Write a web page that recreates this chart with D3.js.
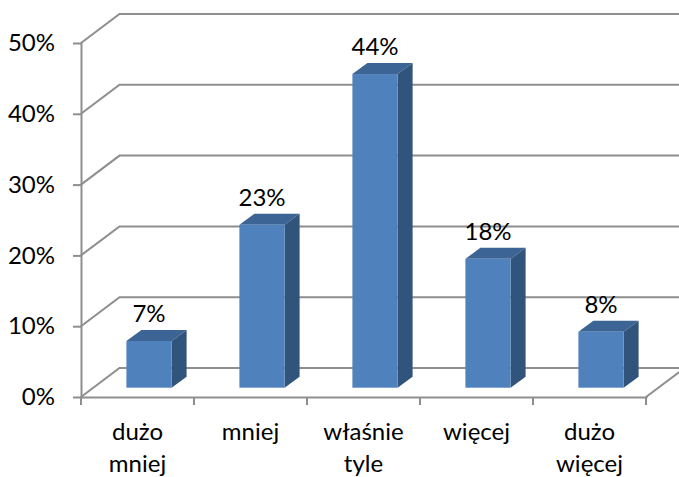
<!DOCTYPE html>
<meta charset="utf-8">
<style>
    body { margin: 0; background: #fff; }
    svg { display: block; }
    text { font-family: Lato, "Open Sans", sans-serif; font-size: 24px; fill: #000; }
    .axis path, .axis line, .grid { fill: none; stroke: #8e8e8e; stroke-width: 2px; }
    .domain { stroke-linecap: square; }
</style>

<body>
    <script src="https://d3js.org/d3.v7.min.js"></script>
    <script>
        // values
        var categories = ["dużo mniej", "mniej", "właśnie tyle", "więcej", "dużo więcej"];
        var values = [0.066, 0.23, 0.443, 0.182, 0.079];
        var yTicks = [0, 0.1, 0.2, 0.3, 0.4, 0.5];

        var width = 679, height = 477;

        // plot box, front plane
        var left = 81, right = 646, bottom = 397, top_ = 43;
        // depth of the 3d walls and of each bar
        var wallX = 38.5, wallY = 29;
        var barShiftX = 11.5, barShiftY = 9.3, barDepthX = 15, barDepthY = 11;

        var x = d3.scaleBand().domain(categories).range([left, right]).paddingInner(0.6).paddingOuter(0.3);
        var y = d3.scaleLinear().domain([0, 0.5]).range([bottom, top_]);
        var fmt = d3.format(".0%");

        var svg = d3.select("body").append("svg")
            .attr("width", width)
            .attr("height", height);

        // back wall + floor lines
        svg.selectAll(".grid").data(yTicks).enter().append("path")
            .attr("class", "grid")
            .attr("d", function(d) {
                return d3.line()([
                    [left, y(d)],
                    [left + wallX, y(d) - wallY],
                    [right + wallX, y(d) - wallY]
                ]);
            });
        svg.append("path")
            .attr("class", "grid")
            .attr("d", d3.line()([
                [right, y(0)],
                [right + wallX, y(0) - wallY]
            ]));

        // y axis
        svg.append("g")
            .attr("class", "axis")
            .attr("transform", "translate(" + left + ",0)")
            .call(d3.axisLeft(y).tickValues(yTicks).tickFormat(d3.format(".0%")).tickSize(8).tickSizeOuter(0).tickPadding(18));

        // x axis, ticks sit on the band edges
        var xAxis = svg.append("g")
            .attr("class", "axis")
            .attr("transform", "translate(0," + bottom + ")")
            .call(d3.axisBottom(x).tickSize(0).tickSizeOuter(0));

        xAxis.selectAll(".tick text").each(function(d) {
            var words = d.split(" ");
            var t = d3.select(this).text(null).attr("y", 0).attr("dy", null);
            words.forEach(function(w, i) {
                t.append("tspan").attr("x", 0).attr("y", 42.5 + i * 32.5).text(w);
            });
        });

        var step = (right - left) / categories.length;
        xAxis.selectAll(".edge").data(d3.range(categories.length + 1)).enter().append("line")
            .attr("class", "edge")
            .attr("x1", function(i) { return left + i * step; })
            .attr("x2", function(i) { return left + i * step; })
            .attr("y1", 0)
            .attr("y2", 8);

        // bars
        var bars = svg.selectAll(".bar").data(values).enter().append("g")
            .attr("class", "bar")
            .attr("transform", function(d, i) {
                return "translate(" + (x(categories[i]) + barShiftX) + "," + (-barShiftY) + ")";
            });

        var bw = x.bandwidth();

        // top face
        bars.append("path")
            .attr("fill", "#3c6494")
            .attr("d", function(d) {
                return d3.line()([
                    [0, y(d)],
                    [barDepthX, y(d) - barDepthY],
                    [bw + barDepthX, y(d) - barDepthY],
                    [bw, y(d)]
                ]) + "Z";
            });

        // side face
        bars.append("path")
            .attr("fill", "#31547c")
            .attr("d", function(d) {
                return d3.line()([
                    [bw, y(d)],
                    [bw + barDepthX, y(d) - barDepthY],
                    [bw + barDepthX, y(0) - barDepthY],
                    [bw, y(0)]
                ]) + "Z";
            });

        // front face
        bars.append("rect")
            .attr("fill", "#4f81bd")
            .attr("x", 0)
            .attr("width", bw)
            .attr("y", function(d) { return y(d); })
            .attr("height", function(d) { return y(0) - y(d); });

        // data labels
        bars.append("text")
            .attr("text-anchor", "middle")
            .attr("x", bw / 2)
            .attr("y", function(d) { return y(d) - 19; })
            .text(function(d) { return fmt(d); });
    </script>
</body>
